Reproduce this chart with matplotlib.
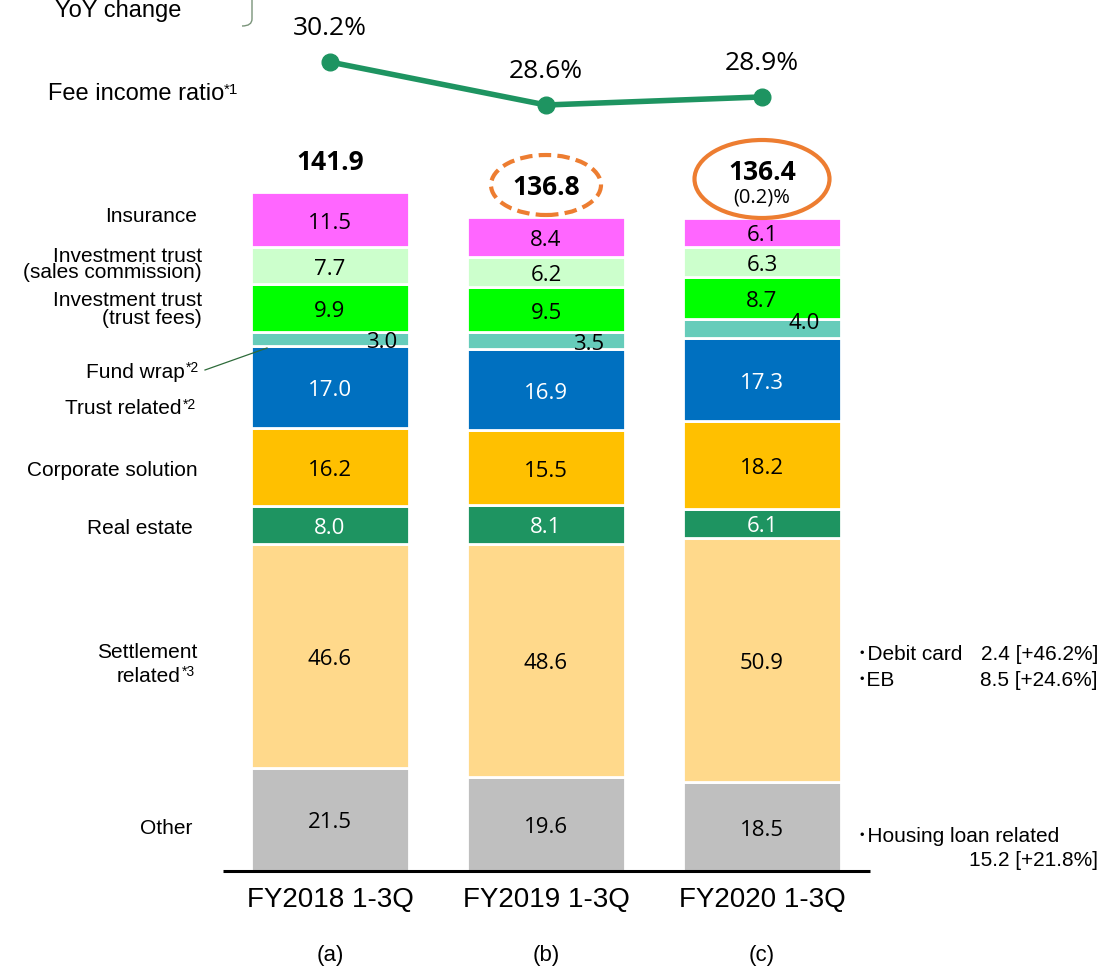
import matplotlib
matplotlib.use("Agg")
import matplotlib.pyplot as plt
import numpy as np
from matplotlib.patches import Ellipse
from matplotlib.path import Path
from matplotlib.patches import PathPatch

# ---------------- data ----------------
periods = ["FY2018 1-3Q", "FY2019 1-3Q", "FY2020 1-3Q"]
sub_labels = ["(a)", "(b)", "(c)"]
categories = ["Other", "Settlement related", "Real estate", "Corporate solution",
              "Trust related", "Fund wrap", "Investment trust (trust fees)",
              "Investment trust (sales commission)", "Insurance"]
other = [21.5, 19.6, 18.5]
settlement = [46.6, 48.6, 50.9]
real_estate = [8.0, 8.1, 6.1]
corporate = [16.2, 15.5, 18.2]
trust_related = [17.0, 16.9, 17.3]
fund_wrap = [3.0, 3.5, 4.0]
it_trust_fees = [9.9, 9.5, 8.7]
it_sales = [7.7, 6.2, 6.3]
insurance = [11.5, 8.4, 6.1]
totals = [141.9, 136.8, 136.4]
fee_ratio = [30.2, 28.6, 28.9]
yoy_2020 = "(0.2)%"

series = [other, settlement, real_estate, corporate, trust_related,
          fund_wrap, it_trust_fees, it_sales, insurance]
colors = ["#BFBFBF", "#FFD98B", "#1E9461", "#FFC000", "#0070C0",
          "#66CCBA", "#00FF00", "#CCFFCC", "#FF66FF"]
text_colors = ["black", "black", "white", "black", "white",
               "black", "black", "black", "black"]

# ---------------- figure ----------------
W, H = 1113, 970
fig = plt.figure(figsize=(W / 100, H / 100), dpi=100)
ax = fig.add_axes([0, 0, 1, 1])
BASE = 872.0
SC = 4.8
XC, XS = 330.0, 216.0


def px(x):
    return (x - XC) / XS


def py(y):
    return (BASE - y) / SC


ax.set_xlim(px(0), px(W))
ax.set_ylim(py(H), py(0))
ax.axis("off")

NUM = "Open Sans"
ARIAL = "Liberation Sans"
DY = -2.5 / SC  # small downward nudge so digits sit visually centred

x = np.arange(len(periods))
bw = 158 / XS
bottom = np.zeros(len(periods))
for k, (vals, col, tc) in enumerate(zip(series, colors, text_colors)):
    vals = np.array(vals)
    ax.bar(x, vals, bw, bottom=bottom, color=col, edgecolor="white",
           linewidth=2, zorder=2)
    for i in range(len(x)):
        if categories[k] == "Fund wrap":
            dy = 1.7 if i == 2 else 0.0
            xr = x[i] + bw / 2 - (12 if i == 0 else 21) / XS
            ax.text(xr, bottom[i] + vals[i] / 2 + dy + DY, f"{vals[i]:.1f}",
                    ha="right", va="center", fontsize=16, family=NUM,
                    color=tc, zorder=4)
        else:
            ax.text(x[i], bottom[i] + vals[i] / 2 + DY, f"{vals[i]:.1f}",
                    ha="center", va="center", fontsize=16, family=NUM,
                    color=tc, zorder=4)
    bottom += vals

# totals
for i in range(len(x)):
    if i == 2:
        ax.text(x[i], py(173), f"{totals[i]:.1f}", ha="center", va="center",
                fontsize=19, fontweight="bold", family=NUM)
        ax.text(x[i], py(198), yoy_2020, ha="center", va="center",
                fontsize=14.5, family=NUM)
    else:
        ax.text(x[i], bottom[i] + 33 / SC + DY, f"{totals[i]:.1f}", ha="center",
                va="center", fontsize=19, fontweight="bold", family=NUM)

# ellipses
e1 = Ellipse((x[1], py(186)), 110 / XS, 60 / SC, fill=False,
             edgecolor="#ED7D31", linewidth=3, linestyle=(0, (3, 1.5)), zorder=5)
e2 = Ellipse((x[2], py(180)), 135 / XS, 78 / SC, fill=False,
             edgecolor="#ED7D31", linewidth=3, zorder=5)
ax.add_patch(e1)
ax.add_patch(e2)

# baseline
ax.plot([px(223), px(870)], [0, 0], color="black", linewidth=2.2, zorder=3,
        solid_capstyle="butt")

# x labels
for i in range(len(x)):
    ax.text(x[i], py(900), periods[i], ha="center", va="center",
            fontsize=20, family=ARIAL)
    ax.text(x[i], py(956), sub_labels[i], ha="center", va="center",
            fontsize=16, family=ARIAL)

# fee income ratio line on twin axis
ax2 = ax.twinx()
ax2.set_position([0, 0, 1, 1])
R0, RS = 30.2, 26.875  # 30.2% at pixel 63


def ry(y):
    return R0 + (63 - y) / RS


ax2.set_ylim(ry(H), ry(0))
ax2.axis("off")
ax2.plot(x, fee_ratio, color="#1E9461", linewidth=4, marker="o",
         markersize=12, zorder=6)
for i in range(len(x)):
    ax2.annotate(f"{fee_ratio[i]:.1f}%", (x[i], fee_ratio[i]),
                 xytext=(0, 25), textcoords="offset points", ha="center",
                 va="center", fontsize=19, family=NUM)


# left labels
def label(xr, yc, s, sup=None, size=15):
    t = ax.text(px(xr), py(yc), s, ha="right", va="center", fontsize=size,
                family=ARIAL)
    if sup:
        ax.annotate(sup, xy=(1.0, 1.0), xycoords=t, xytext=(0.5, 1),
                    textcoords="offset points", ha="left", va="top",
                    fontsize=10, family=ARIAL)
    return t


label(197, 217, "Insurance")
label(202, 256, "Investment trust")
label(202, 273, "(sales commission)")
label(202, 301, "Investment trust")
label(202, 318, "(trust fees)")
label(185, 372, "Fund wrap", "*2")
label(182, 409, "Trust related", "*2")
label(198, 471, "Corporate solution")
label(193, 529, "Real estate")
label(197, 652, "Settlement")
label(181, 676, "related", "*3")
label(192, 829, "Other")

# fund wrap leader line
ax.plot([px(205), px(267)], [py(371), py(349)], color="#2E6B3A", linewidth=0.9)

# top-left texts
ax.text(px(55), py(11), "YoY change", ha="left", va="center", fontsize=17,
        family=ARIAL)
tf = ax.text(px(48), py(94), "Fee income ratio", ha="left", va="center",
             fontsize=17, family=ARIAL)
ax.annotate("*1", xy=(1.0, 1.0), xycoords=tf, xytext=(0, 0),
            textcoords="offset points", ha="left", va="top", fontsize=11,
            family=ARIAL)

# bracket near YoY change
verts = [(px(252), py(-2)), (px(252), py(20)), (px(252), py(27)), (px(242), py(27))]
codes = [Path.MOVETO, Path.LINETO, Path.CURVE3, Path.CURVE3]
ax.add_patch(PathPatch(Path(verts, codes), fill=False, edgecolor="#7A947A",
                       linewidth=1))

# right annotations
JP = [ARIAL, "Noto Sans CJK JP"]
ax.text(px(857), py(655), "\uff65Debit card", ha="left", va="center",
        fontsize=15, family=JP)
ax.text(px(1098), py(655), "2.4 [+46.2%]", ha="right", va="center",
        fontsize=15, family=ARIAL)
ax.text(px(857), py(680), "\uff65EB", ha="left", va="center",
        fontsize=15, family=JP)
ax.text(px(1098), py(680), "8.5 [+24.6%]", ha="right", va="center",
        fontsize=15, family=ARIAL)
ax.text(px(857), py(837), "\uff65Housing loan related", ha="left", va="center",
        fontsize=15, family=JP)
ax.text(px(1098), py(861), "15.2 [+21.8%]", ha="right", va="center",
        fontsize=15, family=ARIAL)

fig.savefig("out.png", dpi=100)
